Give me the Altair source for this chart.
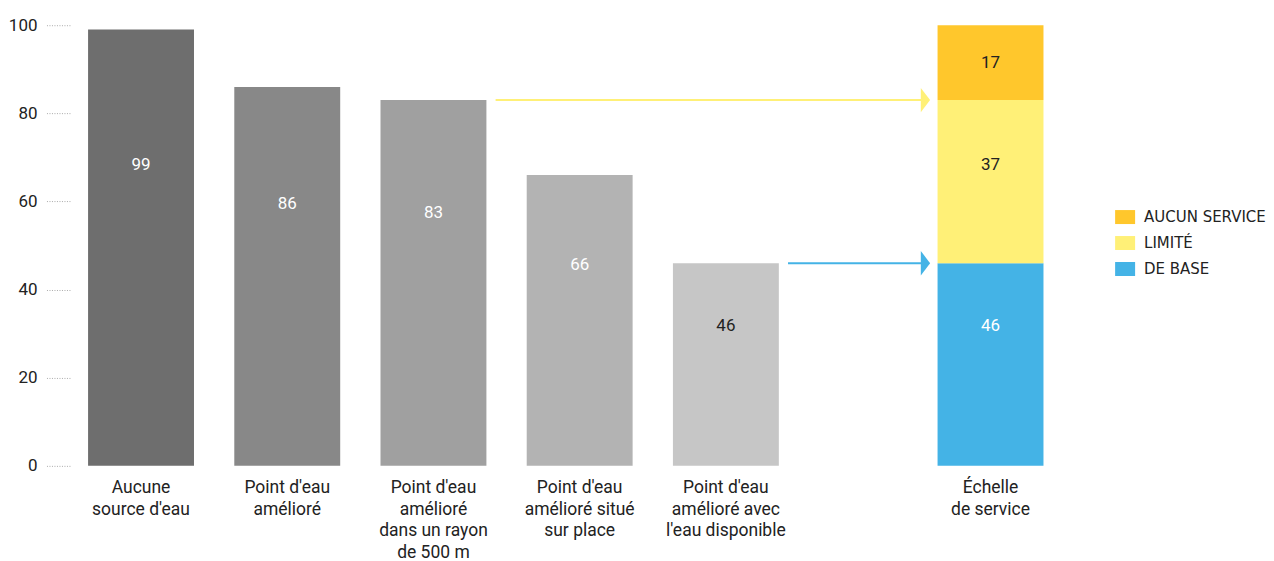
import altair as alt
import pandas as pd

categories = ["Aucune\nsource d'eau", "Point d'eau\namélioré",
              "Point d'eau\namélioré\ndans un rayon\nde 500 m",
              "Point d'eau\namélioré situé\nsur place",
              "Point d'eau\namélioré avec\nl'eau disponible",
              "Échelle\nde service"]
values = [99, 86, 83, 66, 46]
bar_colors = ["#6e6e6e", "#888888", "#a0a0a0", "#b3b3b3", "#c6c6c6"]
label_colors = ["#ffffff", "#ffffff", "#ffffff", "#ffffff", "#222222"]
levels = ["DE BASE", "LIMITÉ", "AUCUN SERVICE"]
level_values = [46, 37, 17]
level_label_colors = ["#ffffff", "#222222", "#222222"]
legend_order = ["AUCUN SERVICE", "LIMITÉ", "DE BASE"]
legend_colors = ["#ffc72c", "#fff077", "#44b3e6"]
# arrows: from bar index -> level value
arrow_from = [2, 4]
arrow_level = [83, 46]
arrow_colors = ["#fff077", "#44b3e6"]

slots = [0, 1, 2, 3, 4, 5.81]
FONT = "Roboto"
W, H = 998, 441

gray = pd.DataFrame({"slot": slots[:5], "value": values, "color": bar_colors,
                     "lc": label_colors})
gray["ly"] = gray["value"] * 0.69

y0 = [0, 46, 83]
frac = [0.69, 0.6, 0.5]
stack = pd.DataFrame({"slot": [slots[5]] * 3, "level": levels, "v": level_values,
                      "y0": y0, "lc": level_label_colors, "f": frac})
stack["y1"] = stack["y0"] + stack["v"]
stack["ly"] = stack["y0"] + stack["v"] * stack["f"]

cats = pd.DataFrame({"slot": slots, "cat": categories})
arrows = pd.DataFrame({"xs": [slots[i] + 0.425 for i in arrow_from],
                       "xe": [slots[5] - 0.45] * 2,
                       "xt": [slots[5] - 0.445] * 2,
                       "y": arrow_level, "color": arrow_colors})

xscale = alt.Scale(domain=[-0.452, 6.3], nice=False, zero=False)
yscale = alt.Scale(domain=[0, 100], nice=False)

bars = alt.Chart(gray).mark_bar(size=106).encode(
    x=alt.X("slot:Q", scale=xscale, axis=None),
    y=alt.Y("value:Q", scale=yscale, title=None,
            axis=alt.Axis(values=[0, 20, 40, 60, 80, 100], tickSize=25,
                          tickDash=[1, 1.5], tickColor="#aaaaaa", domain=False,
                          grid=False, labelFontSize=17, labelFont=FONT,
                          labelColor="#222222", labelPadding=8)),
    y2=alt.datum(0),
    color=alt.Color("color:N", scale=None),
)
bar_text = alt.Chart(gray).mark_text(fontSize=17, font=FONT).encode(
    x=alt.X("slot:Q", scale=xscale), y=alt.Y("ly:Q", scale=yscale),
    text="value:Q", color=alt.Color("lc:N", scale=None))

sbars = alt.Chart(stack).mark_bar(size=106).encode(
    x=alt.X("slot:Q", scale=xscale),
    y=alt.Y("y1:Q", scale=yscale), y2="y0:Q",
    color=alt.Color("level:N", scale=alt.Scale(domain=legend_order, range=legend_colors),
                    sort=legend_order,
                    legend=alt.Legend(title=None, orient="none", legendX=1046, legendY=182,
                                      symbolType="M-1,-0.7H1V0.7H-1Z", symbolSize=400,
                                      symbolStrokeWidth=0, labelFontSize=15,
                                      labelFont="DejaVu Sans",
                                      labelColor="#222222", rowPadding=8, labelOffset=9)),
)
stext = alt.Chart(stack).mark_text(fontSize=17, font=FONT).encode(
    x=alt.X("slot:Q", scale=xscale), y=alt.Y("ly:Q", scale=yscale),
    text="v:Q", color=alt.Color("lc:N", scale=None))

cat_text = alt.Chart(cats).mark_text(fontSize=17.5, font=FONT, baseline="top", dy=13,
                                     lineBreak="\n", lineHeight=21.8, color="#222222").encode(
    x=alt.X("slot:Q", scale=xscale), y=alt.value(H), text="cat:N")

rules = alt.Chart(arrows).mark_rule(strokeWidth=2).encode(
    x=alt.X("xs:Q", scale=xscale), x2="xe:Q", y=alt.Y("y:Q", scale=yscale),
    color=alt.Color("color:N", scale=None))
heads = alt.Chart(arrows).mark_point(shape="M-0.38,-1L0.38,0L-0.38,1Z", size=600,
                                     filled=True, opacity=1).encode(
    x=alt.X("xt:Q", scale=xscale), y=alt.Y("y:Q", scale=yscale),
    color=alt.Color("color:N", scale=None))

chart = alt.layer(bars, bar_text, sbars, stext, cat_text, rules, heads).resolve_scale(
    color="independent").properties(
    width=W, height=H, padding={"left": 0, "top": 8, "right": 0, "bottom": 0}
).configure_view(stroke=None)

chart.save("out.html", embed_options={"renderer": "svg", "actions": False})
